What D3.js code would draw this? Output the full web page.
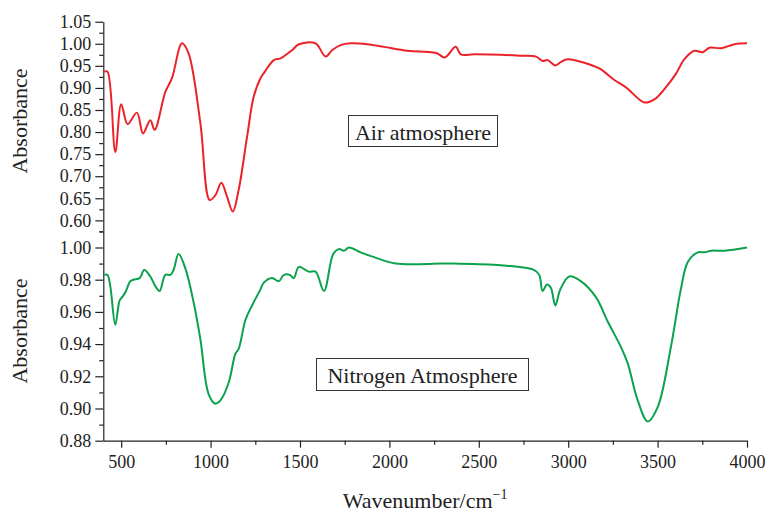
<!DOCTYPE html>
<html>
<head>
<meta charset="utf-8">
<script src="https://cdn.jsdelivr.net/npm/d3@7"></script>
<style>
    body { margin: 0; background: #fff; }
    svg, svg text { font-family: "Liberation Serif", "Times New Roman", serif; }
    .axis text { font-size: 18px; fill: #222; font-family: "Liberation Serif", "Times New Roman", serif; }
    .axis path, .axis line { stroke: #222; stroke-width: 1.2; }
    .axis-title { font-size: 22px; fill: #222; }
    .note-box { fill: #fff; stroke: #333; stroke-width: 1; }
    .note-text { font-size: 22px; fill: #222; }
</style>
</head>
<body>
<div id="chart"></div>
<script>
// FTIR spectrum, air atmosphere (top panel)
const airWavenumber = [405, 423, 467, 500, 536, 588, 622, 663, 687, 747, 784, 840, 877, 943,
    995, 1027, 1060, 1092, 1124, 1157, 1204, 1241, 1279, 1297, 1354, 1391, 1457, 1494, 1587,
    1643, 1681, 1727, 1783, 1877, 1970, 2101, 2231, 2269, 2310, 2371, 2399, 2474, 2623, 2735,
    2820, 2857, 2885, 2928, 2960, 2997, 3090, 3174, 3258, 3324, 3426, 3482, 3557, 3604, 3650,
    3706, 3753, 3790, 3856, 3930, 4000];
const airAbsorbance = [0.937, 0.937, 0.755, 0.863, 0.818, 0.844, 0.797, 0.827, 0.805, 0.891,
    0.922, 1.001, 0.978, 0.820, 0.646, 0.657, 0.685, 0.654, 0.620, 0.669, 0.789, 0.880, 0.922,
    0.933, 0.963, 0.967, 0.986, 0.999, 1.001, 0.971, 0.986, 0.997, 1.001, 0.999, 0.993, 0.984,
    0.981, 0.978, 0.969, 0.993, 0.976, 0.976, 0.975, 0.973, 0.971, 0.961, 0.963, 0.951, 0.959,
    0.965, 0.957, 0.944, 0.918, 0.901, 0.867, 0.874, 0.907, 0.933, 0.965, 0.984, 0.981, 0.991,
    0.990, 0.999, 1.001];

// FTIR spectrum, nitrogen atmosphere (bottom panel)
const n2Wavenumber = [405, 423, 439, 467, 491, 504, 523, 551, 569, 603, 629, 663, 691, 715,
    747, 775, 793, 821, 859, 905, 943, 989, 1027, 1055, 1101, 1139, 1157, 1195, 1232, 1279,
    1297, 1344, 1381, 1410, 1443, 1465, 1494, 1549, 1587, 1634, 1686, 1718, 1746, 1774, 1839,
    1914, 2035, 2287, 2362, 2623, 2810, 2838, 2857, 2881, 2903, 2928, 2956, 3006, 3072, 3156,
    3221, 3296, 3333, 3389, 3445, 3501, 3574, 3630, 3669, 3725, 3762, 3800, 3874, 4000];
const n2Absorbance = [0.983, 0.983, 0.976, 0.952, 0.967, 0.969, 0.972, 0.979, 0.980, 0.981,
    0.986, 0.982, 0.976, 0.973, 0.983, 0.983, 0.986, 0.996, 0.987, 0.966, 0.943, 0.909, 0.903,
    0.905, 0.916, 0.934, 0.937, 0.955, 0.964, 0.974, 0.978, 0.981, 0.979, 0.983, 0.983, 0.981,
    0.988, 0.985, 0.985, 0.973, 0.996, 0.999, 0.998, 1.000, 0.997, 0.994, 0.990, 0.990, 0.990,
    0.989, 0.986, 0.983, 0.973, 0.977, 0.975, 0.964, 0.974, 0.982, 0.979, 0.969, 0.954, 0.938,
    0.928, 0.905, 0.892, 0.901, 0.938, 0.974, 0.991, 0.997, 0.997, 0.998, 0.998, 1.000];

// tick values
const xTicks = [500, 1000, 1500, 2000, 2500, 3000, 3500, 4000];
const xMinorTicks = [750, 1250, 1750, 2250, 2750, 3250, 3750];
const airTicks = [0.60, 0.65, 0.70, 0.75, 0.80, 0.85, 0.90, 0.95, 1.00, 1.05];
const airMinorTicks = [0.575, 0.625, 0.675, 0.725, 0.775, 0.825, 0.875, 0.925, 0.975, 1.025];
const n2Ticks = [0.88, 0.90, 0.92, 0.94, 0.96, 0.98, 1.00];
const n2MinorTicks = [0.89, 0.91, 0.93, 0.95, 0.97, 0.99, 1.01];

const width = 769, height = 513;
const left = 103.3, right = 747;
const axisBottomY = 440.7;

const svg = d3.select('#chart').append('svg')
    .attr('width', width)
    .attr('height', height);

const xScale = d3.scaleLinear().domain([400, 4000]).range([left, right]);

// two stacked panels sharing the x axis
const panels = [
    {
        xs: airWavenumber, ys: airAbsorbance, color: '#ec2229',
        yScale: d3.scaleLinear().domain([0.575, 1.05]).range([231.4, 21.7]),
        ticks: airTicks, minor: airMinorTicks, titleY: 121,
        note: 'Air atmosphere', box: [348.5, 115.5, 149, 31], textY: 139.5
    },
    {
        xs: n2Wavenumber, ys: n2Absorbance, color: '#0ca24c',
        yScale: d3.scaleLinear().domain([0.88, 1.01]).range([axisBottomY, 231.4]),
        ticks: n2Ticks, minor: n2MinorTicks, titleY: 331,
        note: 'Nitrogen Atmosphere', box: [316.5, 358.5, 212, 32], textY: 383
    }
];

panels.forEach(p => {
    svg.append('g').attr('class', 'axis y-axis')
        .attr('transform', `translate(${left},0)`)
        .call(d3.axisLeft(p.yScale)
            .tickValues(p.ticks)
            .tickFormat(d3.format('.2f'))
            .tickSize(8)
            .tickSizeOuter(0)
            .tickPadding(4))
        .attr('font-family', null);

    svg.append('g').attr('class', 'axis')
        .attr('transform', `translate(${left},0)`)
        .call(d3.axisLeft(p.yScale).tickValues(p.minor).tickSize(4).tickFormat(''))
        .call(g => g.select('.domain').remove());

    const line = d3.line()
        .x((d, i) => xScale(p.xs[i]))
        .y(d => p.yScale(d))
        .curve(d3.curveCatmullRom.alpha(0.5));

    svg.append('path')
        .datum(p.ys)
        .attr('fill', 'none')
        .attr('stroke', p.color)
        .attr('stroke-width', 2)
        .attr('stroke-linejoin', 'round')
        .attr('d', line);

    svg.append('text')
        .attr('class', 'axis-title')
        .attr('transform', `translate(27,${p.titleY}) rotate(-90)`)
        .attr('text-anchor', 'middle')
        .text('Absorbance');

    // label box
    svg.append('rect')
        .attr('class', 'note-box')
        .attr('x', p.box[0]).attr('y', p.box[1])
        .attr('width', p.box[2]).attr('height', p.box[3]);
    svg.append('text')
        .attr('class', 'note-text')
        .attr('x', p.box[0] + p.box[2] / 2)
        .attr('y', p.textY)
        .attr('text-anchor', 'middle')
        .text(p.note);
});

// x axis
svg.append('g').attr('class', 'axis x-axis')
    .attr('transform', `translate(0,${axisBottomY})`)
    .call(d3.axisBottom(xScale)
        .tickValues(xTicks)
        .tickFormat(d3.format('d'))
        .tickSize(7)
        .tickSizeOuter(0)
        .tickPadding(8))
    .attr('font-family', null);

svg.append('g').attr('class', 'axis')
    .attr('transform', `translate(0,${axisBottomY})`)
    .call(d3.axisBottom(xScale).tickValues(xMinorTicks).tickSize(4).tickFormat(''))
    .call(g => g.select('.domain').remove());

const xTitle = svg.append('text')
    .attr('class', 'axis-title')
    .attr('x', (left + right) / 2)
    .attr('y', 508)
    .attr('text-anchor', 'middle');
xTitle.append('tspan').text('Wavenumber/cm');
xTitle.append('tspan')
    .attr('dy', -9)
    .style('font-size', '14px')
    .text('\u22121');
</script>
</body>
</html>
